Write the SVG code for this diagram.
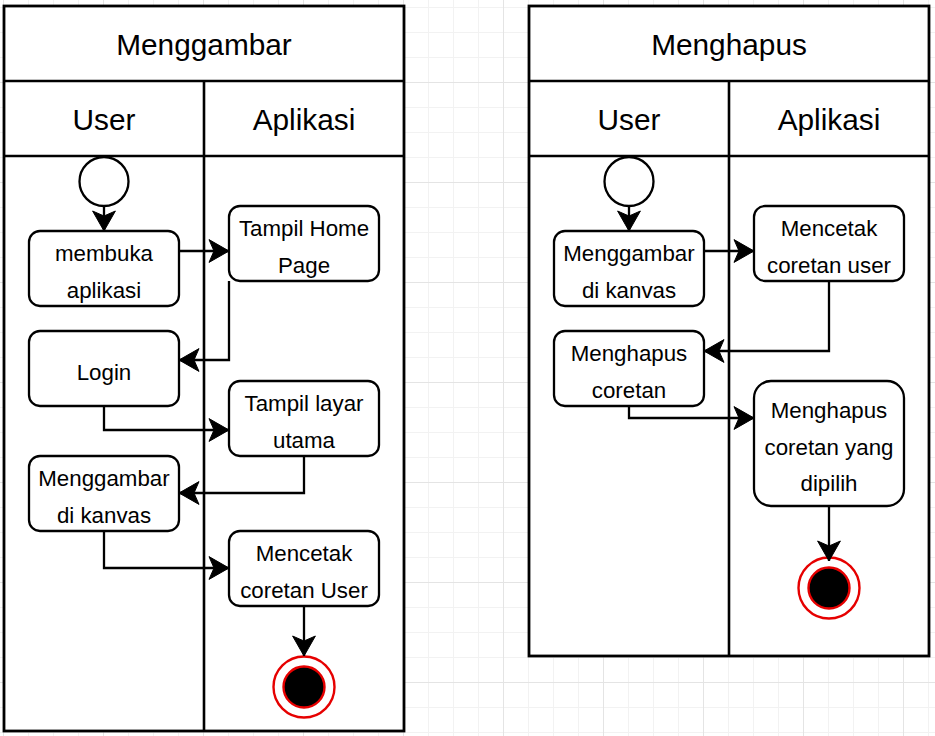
<svg xmlns="http://www.w3.org/2000/svg" width="935" height="736" viewBox="0 0 935 736">
<style>
  .pool { fill: #ffffff; stroke: #000000; stroke-width: 2.8; }
  .sep { stroke: #000000; stroke-width: 2.6; fill: none; }
  .node { fill: #ffffff; stroke: #000000; stroke-width: 2.3; }
  .edge { fill: none; stroke: #000000; stroke-width: 2.3; }
  .title { font-family: "Liberation Sans", Arial, sans-serif; font-size: 29.8px; fill: #000000; text-anchor: middle; }
  .label { font-family: "Liberation Sans", Arial, sans-serif; font-size: 22.3px; fill: #000000; text-anchor: middle; }
  .start { fill: #ffffff; stroke: #000000; stroke-width: 2.3; }
  .endOuter { fill: #ffffff; stroke: #e60000; stroke-width: 2.4; }
  .endInner { fill: #000000; stroke: #e60000; stroke-width: 2.4; }
</style>
<defs>
  <pattern id="gridMinor" x="3" y="7" width="25" height="25" patternUnits="userSpaceOnUse">
    <path d="M0 0.5 H25 M0.5 0 V25" stroke="#f2f2f2" stroke-width="1" fill="none"/>
  </pattern>
  <pattern id="gridMajor" x="3" y="82" width="100" height="100" patternUnits="userSpaceOnUse">
    <path d="M0 0.5 H100 M0.5 0 V100" stroke="#e4e4e4" stroke-width="1" fill="none"/>
  </pattern>
  <marker id="arrow" viewBox="0 0 24 24" refX="21" refY="12" markerWidth="24" markerHeight="24" markerUnits="userSpaceOnUse" orient="auto">
    <path d="M21,12 L1,0.6 L6,12 L1,23.4 Z" fill="#000000" stroke="#000000" stroke-width="1" stroke-linejoin="miter"/>
  </marker>
</defs>

<rect x="0" y="0" width="935" height="736" fill="#ffffff"/>
<rect x="0" y="0" width="935" height="736" fill="url(#gridMinor)"/>
<rect x="0" y="0" width="935" height="736" fill="url(#gridMajor)"/>

<g id="pool-menggambar">
  <rect class="pool" x="4" y="6" width="400" height="725"/>
  <path class="sep" d="M4 81 H404 M4 156 H404 M204 81 V731"/>
  <text class="title" x="204" y="55">Menggambar</text>
  <text class="title" x="104" y="129.5">User</text>
  <text class="title" x="304" y="129.5">Aplikasi</text>
</g>

<g id="pool-menghapus">
  <rect class="pool" x="529" y="6" width="400" height="650"/>
  <path class="sep" d="M529 81 H929 M529 156 H929 M729 81 V656"/>
  <text class="title" x="729" y="55">Menghapus</text>
  <text class="title" x="629" y="129.5">User</text>
  <text class="title" x="829" y="129.5">Aplikasi</text>
</g>

<!-- Left pool nodes -->
<g id="l-start">
  <circle class="start" cx="104" cy="181.5" r="24.5"/>
</g>
<g id="l-membuka">
  <rect class="node" x="29" y="231" width="150" height="75" rx="11" ry="11"/>
  <text class="label" x="104" y="261.25">membuka</text>
  <text class="label" x="104" y="297.75">aplikasi</text>
</g>
<g id="l-tampil-home">
  <rect class="node" x="229" y="206" width="150" height="75" rx="11" ry="11"/>
  <text class="label" x="304" y="236.25">Tampil Home</text>
  <text class="label" x="304" y="272.75">Page</text>
</g>
<g id="l-login">
  <rect class="node" x="29" y="331" width="150" height="75" rx="11" ry="11"/>
  <text class="label" x="104" y="379.5">Login</text>
</g>
<g id="l-tampil-layar">
  <rect class="node" x="229" y="381" width="150" height="75" rx="11" ry="11"/>
  <text class="label" x="304" y="411.25">Tampil layar</text>
  <text class="label" x="304" y="447.75">utama</text>
</g>
<g id="l-menggambar">
  <rect class="node" x="29" y="456" width="150" height="75" rx="11" ry="11"/>
  <text class="label" x="104" y="486.25">Menggambar</text>
  <text class="label" x="104" y="522.75">di kanvas</text>
</g>
<g id="l-mencetak">
  <rect class="node" x="229" y="531" width="150" height="75" rx="11" ry="11"/>
  <text class="label" x="304" y="561.25">Mencetak</text>
  <text class="label" x="304" y="597.75">coretan User</text>
</g>
<g id="l-end">
  <circle class="endOuter" cx="304" cy="687" r="30.5"/>
  <circle class="endInner" cx="304" cy="687" r="20.5"/>
</g>

<!-- Right pool nodes -->
<g id="r-start">
  <circle class="start" cx="629" cy="181.5" r="24.5"/>
</g>
<g id="r-menggambar">
  <rect class="node" x="554" y="231" width="150" height="75" rx="11" ry="11"/>
  <text class="label" x="629" y="261.25">Menggambar</text>
  <text class="label" x="629" y="297.75">di kanvas</text>
</g>
<g id="r-mencetak">
  <rect class="node" x="754" y="206" width="150" height="75" rx="11" ry="11"/>
  <text class="label" x="829" y="236.25">Mencetak</text>
  <text class="label" x="829" y="272.75">coretan user</text>
</g>
<g id="r-menghapus">
  <rect class="node" x="554" y="331" width="150" height="75" rx="11" ry="11"/>
  <text class="label" x="629" y="361.25">Menghapus</text>
  <text class="label" x="629" y="397.75">coretan</text>
</g>
<g id="r-menghapus-dipilih">
  <rect class="node" x="754" y="381" width="150" height="125" rx="17" ry="17"/>
  <text class="label" x="829" y="418">Menghapus</text>
  <text class="label" x="829" y="454.5">coretan yang</text>
  <text class="label" x="829" y="491">dipilih</text>
</g>
<g id="r-end">
  <circle class="endOuter" cx="829" cy="588" r="30.5"/>
  <circle class="endInner" cx="829" cy="588" r="20.5"/>
</g>

<g id="connectors">
  <path class="edge" marker-end="url(#arrow)" d="M104 206 V231"/>
  <path class="edge" marker-end="url(#arrow)" d="M179 251 H229"/>
  <path class="edge" marker-end="url(#arrow)" d="M229 281 V360 H179"/>
  <path class="edge" marker-end="url(#arrow)" d="M104 406 V430 H229"/>
  <path class="edge" marker-end="url(#arrow)" d="M304 456 V493 H179"/>
  <path class="edge" marker-end="url(#arrow)" d="M104 531 V568 H229"/>
  <path class="edge" marker-end="url(#arrow)" d="M304 606 V656"/>

  <path class="edge" marker-end="url(#arrow)" d="M629 206 V231"/>
  <path class="edge" marker-end="url(#arrow)" d="M704 251 H754"/>
  <path class="edge" marker-end="url(#arrow)" d="M829 281 V351 H704"/>
  <path class="edge" marker-end="url(#arrow)" d="M629 406 V418 H754"/>
  <path class="edge" marker-end="url(#arrow)" d="M829 506 V561"/>
</g>
</svg>
